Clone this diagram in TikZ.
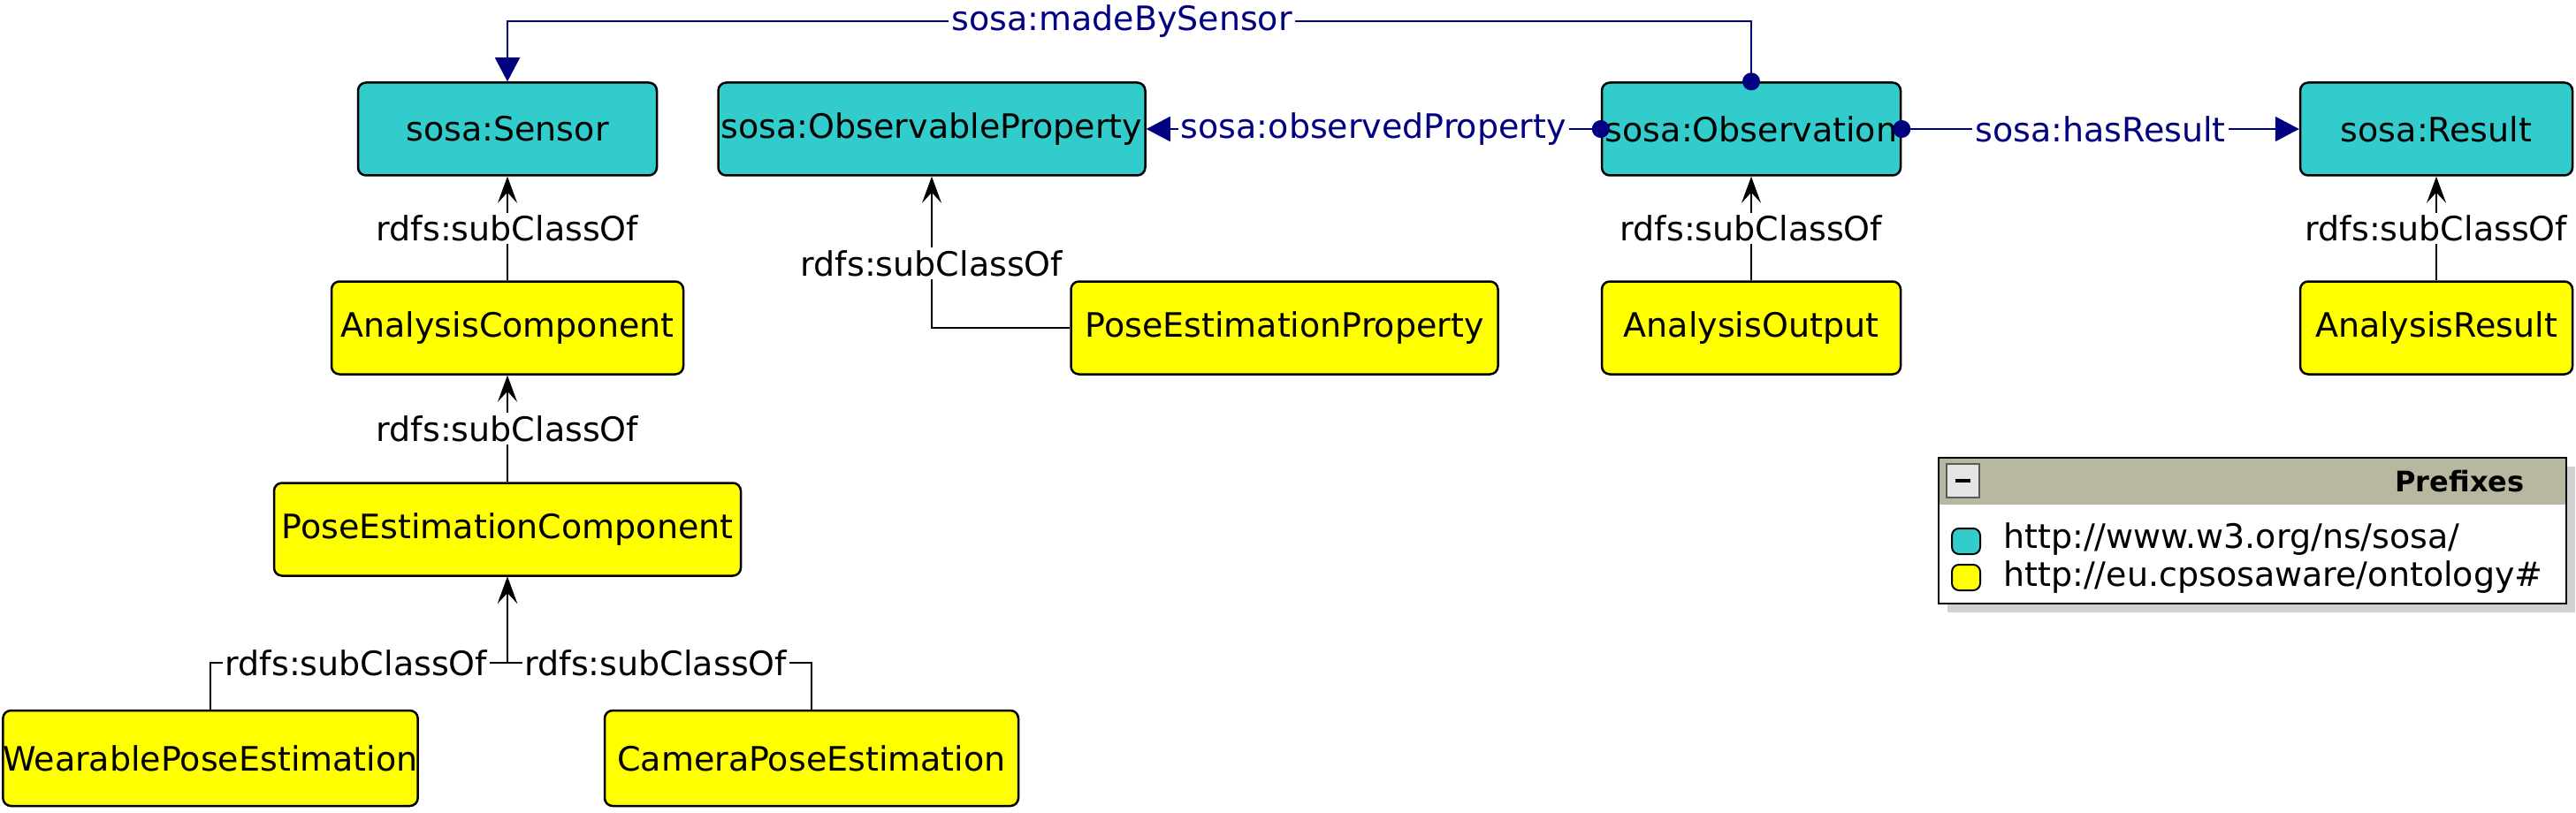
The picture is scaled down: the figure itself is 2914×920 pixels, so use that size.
\documentclass[tikz,border=0pt]{standalone}
\usepackage{fontspec}
\setmainfont{DejaVu Sans}
\usetikzlibrary{arrows.meta}
\definecolor{sosacol}{HTML}{33CCCC}
\definecolor{cpscol}{HTML}{FFFF00}
\definecolor{navyblue}{HTML}{000080}
\definecolor{hdrcol}{HTML}{B8B8A0}
\begin{document}
\begin{tikzpicture}[x=1pt,y=-1pt,
  every node/.style={font=\fontsize{38}{46}\selectfont},
  cls/.style={draw=black, line width=2.5pt, rounded corners=9pt, minimum height=105pt, inner sep=0pt},
  sosabox/.style={cls, fill=sosacol},
  cpsbox/.style={cls, fill=cpscol},
  sub/.style={draw=black, line width=2pt, -{Stealth[length=30pt,width=22pt,inset=12pt]}},
  rel/.style={draw=navyblue, line width=2pt, shorten <=-10pt,
    {Circle[length=20pt,width=20pt]}-{Triangle[length=27pt,width=28pt]}},
  sublbl/.style={fill=white, inner sep=3pt, text=black},
  rellbl/.style={fill=white, inner sep=3pt, text=navyblue}]
\useasboundingbox (0,0) rectangle (2914,920);

% classes
\node[sosabox, minimum width=338pt] (sensor) at (574,146) {sosa:Sensor};
\node[sosabox, minimum width=483pt] (op) at (1054,146) {sosa:ObservableProperty};
\node[sosabox, minimum width=338pt] (obs) at (1981,146) {sosa:Observation};
\node[sosabox, minimum width=308pt] (res) at (2756,146) {sosa:Result};
\node[cpsbox, minimum width=398pt] (ac) at (574,371) {AnalysisComponent};
\node[cpsbox, minimum width=483pt] (pep) at (1453,371) {PoseEstimationProperty};
\node[cpsbox, minimum width=338pt] (ao) at (1981,371) {AnalysisOutput};
\node[cpsbox, minimum width=308pt] (ar) at (2756,371) {AnalysisResult};
\node[cpsbox, minimum width=528pt] (pec) at (574,599) {PoseEstimationComponent};
\node[cpsbox, minimum width=468pt, minimum height=108pt] (wear) at (238,858) {WearablePoseEstimation};
\node[cpsbox, minimum width=468pt, minimum height=108pt] (cam) at (918,858) {CameraPoseEstimation};

% object properties
\coordinate (mbsturn) at (1981,24);
\draw[rel] (obs.north) -- (mbsturn) -| node[rellbl, pos=0.253] {sosa:madeBySensor} (sensor.north);
\draw[rel] (obs.west) -- node[rellbl] {sosa:observedProperty} (op.east);
\draw[rel] (obs.east) -- node[rellbl] {sosa:hasResult} (res.west);

% subclass relations
\draw[sub] (ac.north) -- node[sublbl] {rdfs:subClassOf} (sensor.south);
\draw[sub] (ao.north) -- node[sublbl] {rdfs:subClassOf} (obs.south);
\draw[sub] (ar.north) -- node[sublbl] {rdfs:subClassOf} (res.south);
\draw[sub] (pec.north) -- node[sublbl] {rdfs:subClassOf} (ac.south);
\draw[sub] (pep.west) -| node[sublbl, pos=0.713] {rdfs:subClassOf} (op.south);
\coordinate (junc) at (574,750);
\draw[sub] (wear.north) |- node[sublbl, pos=0.7455] {rdfs:subClassOf} (junc) -- (pec.south);
\draw[sub] (cam.north) |- node[sublbl, pos=0.756] {rdfs:subClassOf} (junc) -- (pec.south);

% legend
\fill[black!18] (2203,528) rectangle (2913,693);
\draw[line width=2.5pt, fill=white] (2193,518) rectangle (2903,683);
\fill[hdrcol] (2194.25,519.25) rectangle (2901.75,571);
\draw[line width=2.5pt] (2193,518) rectangle (2903,683);
\draw[fill=black!10, draw=black!65, line width=2pt] (2202,525) rectangle (2239,563);
\draw[line width=4pt] (2212,544) -- (2229,544);
\node[anchor=east, font=\fontsize{32}{40}\selectfont\bfseries] (prefhdr) at (2859,545) {Prefixes};
\draw[fill=sosacol, line width=2pt, rounded corners=8pt] (2208,598) rectangle (2240,627);
\node[anchor=west, inner sep=0pt] (pref1) at (2266,610) {http://www.w3.org/ns/sosa/};
\draw[fill=cpscol, line width=2pt, rounded corners=8pt] (2208,639) rectangle (2240,668);
\node[anchor=west, inner sep=0pt] (pref2) at (2266,653) {http://eu.cpsosaware/ontology\#};
\end{tikzpicture}
\end{document}
